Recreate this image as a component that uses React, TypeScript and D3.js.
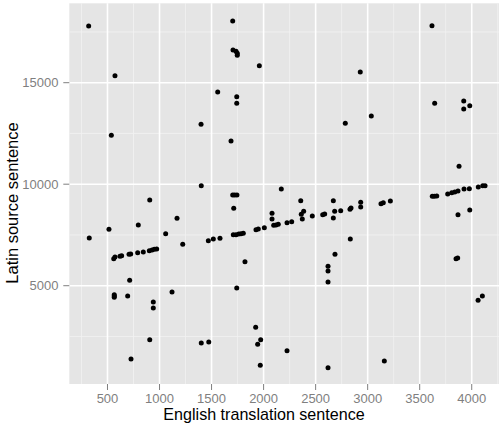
import * as d3 from 'd3';

// English sentence position (x) vs Latin source sentence position (y)
const englishPos = [
  319, 572, 537, 906, 325, 514, 796, 1059, 560, 572, 620, 636, 707, 723, 790, 844, 902, 928, 950, 973,
  713, 565, 565, 565, 694, 940, 940, 906, 726, 1703, 1706, 1735, 1747, 1747, 1959, 1559, 1742, 1742, 1399, 1687,
  1401, 1703, 1722, 1744, 1713, 2170, 2357, 1168, 2081, 2081, 2385, 2362, 2372, 2468, 2568, 2587, 1223, 1469, 1517, 1581,
  1709, 1735, 1761, 1783, 1805, 1927, 1949, 2007, 2097, 2119, 2141, 2225, 2270, 1821, 2619, 3878, 2670, 2683, 2670, 2741,
  2840, 2830, 2933, 2933, 3128, 3150, 3218, 3621, 3641, 3664, 3769, 3808, 3837, 3868, 3926, 3977, 4063, 4106, 4128, 3981,
  3868, 2833, 2686, 3849, 3865, 3618, 2929, 2785, 3035, 3644, 3923, 3981, 3923, 1120, 1742, 1924, 1972, 1943, 1401, 1473,
  2225, 1968, 2619, 2619, 2619, 3160, 4061, 4102,
];
const latinPos = [
  17793, 15345, 12409, 9222, 7350, 7778, 7990, 7562, 6330, 6414, 6448, 6478, 6547, 6562, 6626, 6660, 6724, 6759, 6793, 6808,
  5266, 4557, 4493, 4429, 4493, 4197, 3901, 2340, 1389, 18039, 16611, 16547, 16448, 16350, 15837, 14542, 14310, 13985, 12951, 12128,
  9926, 9468, 9468, 9468, 8813, 9763, 9187, 8320, 8566, 8286, 8665, 8517, 8286, 8433, 8497, 8532, 7039, 7217, 7300, 7335,
  7512, 7512, 7547, 7562, 7581, 7759, 7793, 7857, 7975, 7990, 8025, 8103, 8153, 6182, 5956, 10882, 9187, 8665, 8335, 8695,
  8827, 8763, 9108, 8877, 9039, 9089, 9172, 9404, 9404, 9419, 9517, 9581, 9616, 9665, 9763, 9778, 9862, 9926, 9926, 8729,
  8497, 7300, 6547, 6330, 6365, 17808, 15527, 13000, 13359, 13985, 14098, 13867, 13705, 4690, 4887, 2951, 2340, 2113, 2177, 2227,
  1798, 1079, 5724, 5182, 960, 1291, 4281, 4493,
];

const xTicks = [500, 1000, 1500, 2000, 2500, 3000, 3500, 4000];
const xMinor = [250, 750, 1250, 1750, 2250, 2750, 3250, 3750, 4250];
const yTicks = [5000, 10000, 15000];
const yMinor = [2500, 7500, 12500, 17500];

const W = 501;
const H = 424;
const PANEL = { left: 69.3, top: 3.3, right: 499, bottom: 384 };
const FONT = '"Liberation Sans", Arial, Helvetica, sans-serif';

export default function App() {
  const x = d3.scaleLinear().domain([133, 4262]).range([PANEL.left, PANEL.right]);
  const y = d3.scaleLinear().domain([158, 18911]).range([PANEL.bottom, PANEL.top]);
  const pts = englishPos.map((e, i) => ({ e, l: latinPos[i] }));

  return (
    <svg width={W} height={H} style={{ position: 'absolute', left: 0, top: 0, background: '#fff' }}>
      <rect x={PANEL.left} y={PANEL.top} width={PANEL.right - PANEL.left} height={PANEL.bottom - PANEL.top} fill="#E5E5E5" />
      {/* minor grid */}
      {xMinor.map(t => (
        <line key={'xm' + t} x1={x(t)} x2={x(t)} y1={PANEL.top} y2={PANEL.bottom} stroke="#F2F2F2" strokeWidth={0.8} />
      ))}
      {yMinor.map(t => (
        <line key={'ym' + t} x1={PANEL.left} x2={PANEL.right} y1={y(t)} y2={y(t)} stroke="#F2F2F2" strokeWidth={0.8} />
      ))}
      {/* major grid */}
      {xTicks.map(t => (
        <line key={'xg' + t} x1={x(t)} x2={x(t)} y1={PANEL.top} y2={PANEL.bottom} stroke="#fff" strokeWidth={1.6} />
      ))}
      {yTicks.map(t => (
        <line key={'yg' + t} x1={PANEL.left} x2={PANEL.right} y1={y(t)} y2={y(t)} stroke="#fff" strokeWidth={1.6} />
      ))}
      {/* points */}
      {pts.map((d, i) => (
        <circle key={i} cx={x(d.e)} cy={y(d.l)} r={2.5} fill="#000" />
      ))}
      {/* x axis */}
      {xTicks.map(t => (
        <g key={'xt' + t}>
          <line x1={x(t)} x2={x(t)} y1={PANEL.bottom} y2={PANEL.bottom + 6} stroke="#7F7F7F" strokeWidth={1} />
          <text x={x(t)} y={403.2} textAnchor="middle" fontFamily={FONT} fontSize={13} fill="#7F7F7F">{t}</text>
        </g>
      ))}
      {/* y axis */}
      {yTicks.map(t => (
        <g key={'yt' + t}>
          <line x1={PANEL.left - 6} x2={PANEL.left} y1={y(t)} y2={y(t)} stroke="#7F7F7F" strokeWidth={1} />
          <text x={58.5} y={y(t)} dy="0.35em" textAnchor="end" fontFamily={FONT} fontSize={13} fill="#7F7F7F">{t}</text>
        </g>
      ))}
      <text x={264} y={420.3} textAnchor="middle" fontFamily={FONT} fontSize={16.1} fill="#000">English translation sentence</text>
      <text transform="translate(18,203) rotate(-90)" textAnchor="middle" fontFamily={FONT} fontSize={16.5} fill="#000">Latin source sentence</text>
    </svg>
  );
}
